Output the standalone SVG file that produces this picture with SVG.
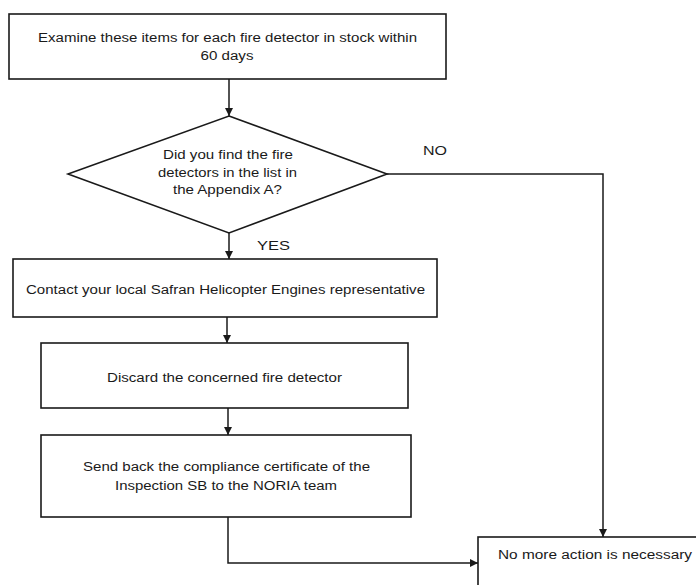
<svg xmlns="http://www.w3.org/2000/svg" width="696" height="585" viewBox="0 0 696 585">
<style>
.box{fill:#fff;stroke:#1a1a1a;stroke-width:1.6}
.conn{fill:none;stroke:#1a1a1a;stroke-width:1.5}
.t{font-family:"Liberation Sans",Arial,sans-serif;font-size:12px;fill:#1a1a1a;text-anchor:middle}
</style>
<defs>
<marker id="ah" viewBox="0 0 10 10" refX="10" refY="5" markerWidth="8" markerHeight="8" markerUnits="userSpaceOnUse" orient="auto">
<path d="M0,0 L10,5 L0,10 Z" fill="#1a1a1a"/>
</marker>
</defs>
<rect width="696" height="585" fill="#fff"/>
<g id="connectors">
<path class="conn" d="M229,79 L229,116" marker-end="url(#ah)"/>
<path class="conn" d="M229,233 L229,259" marker-end="url(#ah)"/>
<path class="conn" d="M387,174 L603,174 L603,537" marker-end="url(#ah)"/>
<path class="conn" d="M227,317 L227,343" marker-end="url(#ah)"/>
<path class="conn" d="M228,408 L228,435" marker-end="url(#ah)"/>
<path class="conn" d="M228,517 L228,563 L478,563" marker-end="url(#ah)"/>
<text class="t" x="435" y="155" textLength="24" lengthAdjust="spacingAndGlyphs">NO</text>
<text class="t" x="273.5" y="250" textLength="33" lengthAdjust="spacingAndGlyphs">YES</text>
</g>
<g id="examine">
<rect class="box" x="9" y="14" width="437" height="65"/>
<text class="t" x="227.5" y="42" textLength="379" lengthAdjust="spacingAndGlyphs">Examine these items for each fire detector in stock within</text>
<text class="t" x="227" y="60" textLength="53" lengthAdjust="spacingAndGlyphs">60 days</text>
</g>
<g id="decision">
<polygon class="box" points="229,116 387,174 229,233 68,174"/>
<text class="t" x="228" y="159" textLength="130" lengthAdjust="spacingAndGlyphs">Did you find the fire</text>
<text class="t" x="227.5" y="177" textLength="139" lengthAdjust="spacingAndGlyphs">detectors in the list in</text>
<text class="t" x="227.5" y="194" textLength="109" lengthAdjust="spacingAndGlyphs">the Appendix A?</text>
</g>
<g id="contact">
<rect class="box" x="13" y="259" width="424" height="58"/>
<text class="t" x="225.5" y="294" textLength="399" lengthAdjust="spacingAndGlyphs">Contact your local Safran Helicopter Engines representative</text>
</g>
<g id="discard">
<rect class="box" x="41" y="343" width="367" height="65"/>
<text class="t" x="224.5" y="382" textLength="235" lengthAdjust="spacingAndGlyphs">Discard the concerned fire detector</text>
</g>
<g id="sendback">
<rect class="box" x="41" y="435" width="370" height="82"/>
<text class="t" x="226.5" y="471" textLength="287" lengthAdjust="spacingAndGlyphs">Send back the compliance certificate of the</text>
<text class="t" x="226" y="490" textLength="222" lengthAdjust="spacingAndGlyphs">Inspection SB to the NORIA team</text>
</g>
<g id="noaction">
<rect class="box" x="478" y="537" width="240" height="70"/>
<text class="t" x="595" y="559" textLength="194" lengthAdjust="spacingAndGlyphs">No more action is necessary</text>
</g>
</svg>
